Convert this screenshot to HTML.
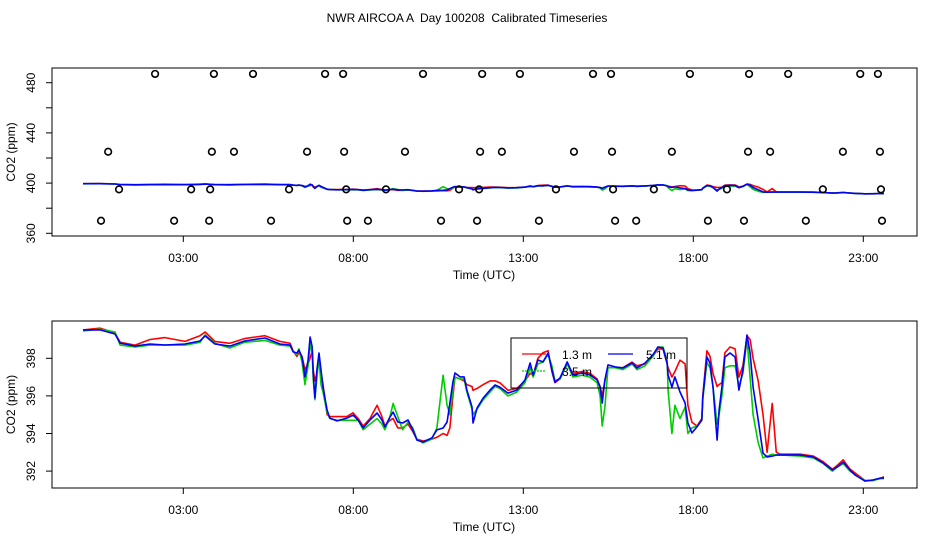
<!DOCTYPE html>
<html><head><meta charset="utf-8"><style>
body{margin:0;background:#fff;}
svg{display:block;font-family:"Liberation Sans",sans-serif;}
</style></head><body>
<svg id="chart" width="936" height="540" viewBox="0 0 936 540">
<text x="467" y="22" text-anchor="middle" font-size="12" style="white-space:pre">NWR AIRCOA A  Day 100208  Calibrated Timeseries</text>
<g id="topPanel"></g>
<g id="botPanel"></g>
<g>
<rect x="511" y="338" width="176" height="50" fill="none" stroke="#000" stroke-width="1"/>
<line x1="522" y1="354" x2="546" y2="354" stroke="#f00" stroke-width="1.2"/>
<text x="562" y="359" font-size="12">1.3 m</text>
<line x1="608" y1="354" x2="633" y2="354" stroke="#00f" stroke-width="1.2"/>
<text x="646" y="359" font-size="12">5.1 m</text>
<line x1="522" y1="371" x2="546" y2="371" stroke="#0c0" stroke-width="1.2" stroke-dasharray="2,1"/>
<text x="562" y="376" font-size="12">3.5 m</text>
</g>
</svg>
<script>
const hours = [0.05,0.55,0.99,1.14,1.58,2.02,2.46,3.05,3.49,3.64,3.93,4.37,4.80,5.40,5.84,6.14,6.23,6.34,6.40,6.49,6.58,6.67,6.73,6.79,6.82,6.87,6.93,6.99,7.05,7.11,7.23,7.31,7.52,7.81,7.99,8.14,8.29,8.49,8.70,8.84,8.93,9.08,9.17,9.31,9.45,9.61,9.75,9.87,10.05,10.31,10.46,10.64,10.76,10.84,10.93,10.99,11.14,11.26,11.34,11.49,11.52,11.64,11.82,12.02,12.17,12.31,12.55,12.81,13.05,13.20,13.29,13.43,13.58,13.73,13.84,13.93,14.08,14.29,14.46,14.73,14.96,15.17,15.26,15.32,15.40,15.49,15.70,15.93,16.20,16.34,16.58,16.81,16.96,17.11,17.23,17.26,17.37,17.46,17.61,17.76,17.84,17.96,18.11,18.25,18.28,18.40,18.49,18.58,18.70,18.76,18.84,18.93,19.08,19.23,19.34,19.46,19.58,19.67,19.76,19.91,20.05,20.17,20.32,20.44,20.55,21.14,21.53,21.82,22.09,22.23,22.41,22.61,22.76,23.05,23.29,23.49,23.61];
const blue5m = [399.51,399.51,399.29,398.81,398.65,398.76,398.71,398.76,398.92,399.19,398.76,398.65,398.92,399.08,398.76,398.71,398.34,398.28,398.44,398.07,397.01,397.91,399.13,398.60,397.22,395.89,397.38,398.28,397.38,396.47,395.25,394.82,394.67,394.82,394.98,394.72,394.29,394.72,395.09,394.72,394.35,394.88,395.14,394.61,394.56,394.72,394.19,393.65,393.55,393.76,394.19,394.29,394.61,395.62,396.74,397.22,397.01,397.01,396.31,395.41,394.56,395.36,395.89,396.31,396.58,396.47,396.15,396.31,396.85,397.75,397.11,397.91,397.81,398.28,397.38,396.74,396.95,397.81,397.11,397.22,397.11,396.85,396.47,395.62,396.85,397.65,397.54,397.49,397.75,397.49,397.75,398.18,398.60,398.55,397.75,397.11,396.47,397.01,396.21,395.62,394.56,394.03,394.35,394.72,395.94,398.07,397.75,396.47,393.65,395.25,396.47,398.07,398.28,398.07,396.31,397.38,399.24,398.28,396.47,394.72,392.96,392.75,392.80,392.85,392.86,392.86,392.75,392.43,392.06,392.22,392.48,392.06,391.79,391.47,391.53,391.63,391.63];
const red13m = [399.51,399.60,399.35,398.85,398.70,399.00,399.10,398.90,399.20,399.40,398.90,398.80,399.05,399.20,398.90,398.80,398.40,398.10,398.30,398.10,397.40,397.70,398.00,398.40,397.40,396.80,397.20,398.00,397.30,396.60,395.00,394.90,394.90,394.90,395.10,394.80,394.40,394.80,395.50,394.90,394.40,394.70,394.80,394.30,394.30,394.50,394.10,393.70,393.60,393.70,393.80,394.00,393.90,394.30,396.00,397.00,396.90,396.80,396.60,396.50,396.30,396.40,396.60,396.80,396.80,396.70,396.30,396.40,396.80,397.20,397.10,398.00,398.30,398.40,397.30,396.70,396.90,397.70,397.20,397.30,397.20,396.90,396.50,396.00,396.80,397.50,397.50,397.50,397.80,397.60,397.70,398.10,398.50,398.50,397.70,397.50,397.00,397.30,397.90,397.70,395.50,394.60,394.40,394.80,396.00,398.40,398.10,397.20,396.50,396.60,396.70,398.30,398.60,398.50,397.00,397.60,399.20,399.00,398.00,396.80,395.00,393.00,395.60,393.00,392.90,392.90,392.80,392.50,392.10,392.30,392.60,392.10,391.90,391.50,391.50,391.60,391.70];
const green35m = [399.45,399.55,399.40,398.70,398.60,398.70,398.70,398.70,398.85,399.25,398.80,398.55,398.85,398.95,398.70,398.65,398.40,398.20,398.50,397.80,396.60,397.60,398.80,398.20,396.90,395.80,397.00,398.00,396.60,396.20,395.10,394.80,394.70,394.70,394.70,394.70,394.20,394.50,394.80,394.50,394.20,394.90,395.60,394.90,394.20,394.60,394.30,393.70,393.50,393.70,394.30,397.10,395.50,395.00,396.30,397.00,396.90,396.90,396.20,395.30,395.00,395.30,395.80,396.20,396.50,396.40,396.00,396.20,396.70,397.50,397.00,397.70,397.80,398.20,397.60,396.80,396.90,397.70,397.00,397.10,397.00,396.70,396.00,394.40,395.40,397.50,397.50,397.40,397.70,397.40,397.60,398.10,398.60,398.60,397.90,396.30,394.00,395.50,394.80,395.40,394.00,394.30,394.40,394.70,395.80,397.80,397.50,396.50,394.50,395.00,396.00,397.50,397.60,397.60,396.50,397.20,399.00,397.00,395.00,393.50,392.70,392.80,392.90,392.85,392.86,392.80,392.70,392.40,392.00,392.20,392.40,392.00,391.80,391.50,391.50,391.60,391.60];
const obsHours487 = [2.17,3.90,5.05,7.17,7.70,10.05,11.79,12.90,15.05,15.58,17.90,19.64,20.79,22.91,23.43];
const obsHours425 = [0.79,3.84,4.49,6.64,7.73,9.52,11.73,12.37,14.49,15.61,17.37,19.61,20.26,22.40,23.49];
const obsHours395 = [1.11,3.23,3.79,6.11,7.79,8.96,11.11,11.70,13.96,15.64,16.84,18.99,21.81,23.52];
const obsHours370 = [0.58,2.73,3.76,5.58,7.82,8.43,10.58,11.64,13.46,15.70,16.32,18.43,19.49,21.31,23.55];
const obsLevels = [487,425,395,370];
const xTickHours = [3,8,13,18,23];
const xTickLabels = ["03:00","08:00","13:00","18:00","23:00"];
const topYTicks = [360,380,400,420,440,460,480];
const topYLabels = ["360","","400","","440","","480"];
const botYTicks = [392,394,396,398];
const botYLabels = ["392","394","396","398"];

const NS="http://www.w3.org/2000/svg";
const xS = h => 81.3 + h*34;
const topY = v => 233.3 - (v-360)*1.255;
const botY = v => 358.3 - (v-398)*18.8;
function mk(tag, attrs, parent){const e=document.createElementNS(NS,tag);for(const k in attrs)e.setAttribute(k,attrs[k]);parent.appendChild(e);return e;}

function panel(g, y0, y1, yFn, yTicks, yLabels, prefix){
  const box=mk('rect',{x:52,y:y0,width:865,height:y1-y0,fill:'none',stroke:'#000','stroke-width':1},g);
  
  
  xTickHours.forEach((h,i)=>{
    const t=mk('line',{x1:xS(h),x2:xS(h),y1:y1,y2:y1+6,stroke:'#000'},g);
    
    
    const l=mk('text',{x:xS(h),y:y1+26,'text-anchor':'middle','font-size':12},g);
    l.textContent=xTickLabels[i];
    
    
  });
  yTicks.forEach((v,i)=>{
    const y=yFn(v);
    const t=mk('line',{x1:46,x2:52,y1:y,y2:y,stroke:'#000'},g);
    
    
    if(yLabels[i]){
      const l=mk('text',{x:0,y:0,'text-anchor':'middle','font-size':12,transform:`translate(35,${y}) rotate(-90)`},g);
      l.textContent=yLabels[i];
      
      
    }
  });
  const xt=mk('text',{x:484,y:y1+43,'text-anchor':'middle','font-size':12},g);
  xt.textContent='Time (UTC)';
  
  
  const yt=mk('text',{x:0,y:0,'text-anchor':'middle','font-size':12,transform:`translate(15,${(y0+y1)/2}) rotate(-90)`},g);
  yt.textContent='CO2 (ppm)';
  
  
  [[red13m,'#f00','series-1-3m'],[green35m,'#0c0','series-3-5m'],[blue5m,'#00f','series-5-1m']].forEach(([arr,c,n])=>{
    const d=hours.map((h,i)=>(i?'L':'M')+xS(h).toFixed(1)+','+yFn(arr[i]).toFixed(1)).join('');
    const p=mk('path',{d:d,fill:'none',stroke:c,'stroke-width':1.6,'stroke-linejoin':'round'},g);
    
    
  });
}
const topG=document.getElementById('topPanel');
const botG=document.getElementById('botPanel');
panel(topG,68,236,topY,topYTicks,topYLabels,'top');
panel(botG,321,488,botY,botYTicks,botYLabels,'bottom');
[obsHours487,obsHours425,obsHours395,obsHours370].forEach((arr,k)=>{
  arr.forEach(h=>{
    const c=mk('circle',{cx:xS(h),cy:topY(obsLevels[k]),r:3.3,fill:'none',stroke:'#000','stroke-width':1.6},topG);
    
    
  });
});
</script>
</body></html>
